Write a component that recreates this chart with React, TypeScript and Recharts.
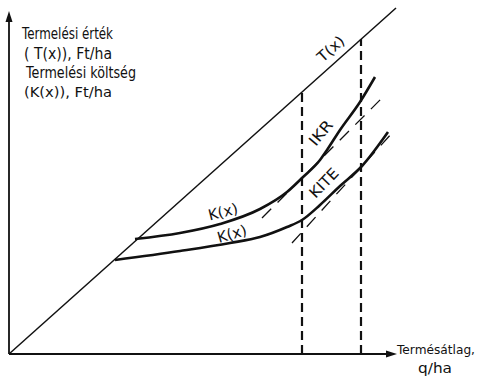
// App.tsx
import React from "react";
import {
  LineChart,
  Line,
  XAxis,
  YAxis,
  ReferenceLine,
  ReferenceDot,
} from "recharts";

// T(x) termelési érték – egyenes az origóból
const tx = [0, 387];
const ty = [0, 346];

// felső K(x) görbe
const k1x = [126, 171, 211, 251, 278, 293, 311, 318, 331, 351, 366];
const k1y = [115, 121, 130, 145, 162, 176, 194, 204, 224, 252, 277];

// alsó K(x) görbe
const k2x = [106, 171, 221, 251, 278, 293, 311, 331, 353, 379];
const k2y = [94, 103, 111, 117, 127, 134, 149, 168, 188, 222];

// szaggatott érintők
const tan1x = [253, 376];
const tan1y = [136, 259];
const tan2x = [283, 384];
const tan2y = [111, 222];

// függőleges szaggatott vonalak (x, T(x) magasság)
const vx = [293, 352];
const vTop = [262, 315];

// feliratok a görbéken
const labels = [
  { text: "T(x)", x: 322, y: 305, angle: -42, len: 31 },
  { text: "IKR", x: 312, y: 221, angle: -50, len: 28 },
  { text: "KITE", x: 315, y: 171, angle: -46, len: 35 },
  { text: "K(x)", x: 214, y: 142, angle: -14, len: 30 },
  { text: "K(x)", x: 223, y: 120, angle: -16, len: 30 },
];

const font = "'DejaVu Sans', sans-serif";
const ink = "#111";

const pts = (xs: number[], ys: number[]) => xs.map((x, i) => ({ x, y: ys[i] }));

// tengely nyíllal a végén
const Arrow = (p: any) => {
  const { x1, y1, x2, y2 } = p;
  const a = Math.atan2(y2 - y1, x2 - x1);
  const L = 11;
  const w = 3.5;
  const bx = x2 - L * Math.cos(a);
  const by = y2 - L * Math.sin(a);
  const nx = -Math.sin(a) * w;
  const ny = Math.cos(a) * w;
  return (
    <g>
      <line x1={x1} y1={y1} x2={bx} y2={by} stroke={ink} strokeWidth={1.8} />
      <polygon
        points={`${x2},${y2} ${bx + nx},${by + ny} ${bx - nx},${by - ny}`}
        fill={ink}
      />
    </g>
  );
};

const T = (p: { x: number; y: number; len: number; size?: number; children: string }) => (
  <text x={p.x} y={p.y} fontSize={p.size ?? 15} textLength={p.len} lengthAdjust="spacingAndGlyphs">
    {p.children}
  </text>
);

export default function App() {
  return (
    <div style={{ position: "absolute", left: 0, top: 0, width: 481, height: 380, background: "#fff" }}>
      <LineChart
        width={481}
        height={380}
        margin={{ top: 4, left: 9, right: 72, bottom: 26 }}
      >
        <XAxis type="number" dataKey="x" domain={[0, 400]} hide />
        <YAxis type="number" dataKey="y" domain={[0, 350]} hide />

        {/* tengelyek */}
        <ReferenceLine
          segment={[{ x: 0, y: 0 }, { x: 388, y: 0 }]}
          ifOverflow="visible"
          shape={Arrow}
        />
        <ReferenceLine
          segment={[{ x: 0, y: 0 }, { x: 0, y: 343 }]}
          ifOverflow="visible"
          shape={Arrow}
        />

        {/* függőleges szaggatott vonalak */}
        {vx.map((x, i) => (
          <Line
            key={"v" + i}
            data={pts([x, x], [0, vTop[i]])}
            dataKey="y"
            stroke={ink}
            strokeWidth={2.2}
            strokeDasharray="9 5"
            dot={false}
            activeDot={false}
            isAnimationActive={false}
          />
        ))}

        {/* érintők */}
        <Line data={pts(tan1x, tan1y)} dataKey="y" stroke={ink} strokeWidth={1.3} strokeDasharray="13 9" dot={false} activeDot={false} isAnimationActive={false} />
        <Line data={pts(tan2x, tan2y)} dataKey="y" stroke={ink} strokeWidth={1.3} strokeDasharray="13 9" dot={false} activeDot={false} isAnimationActive={false} />

        <Line data={pts(tx, ty)} dataKey="y" stroke={ink} strokeWidth={1.5} dot={false} activeDot={false} isAnimationActive={false} />
        <Line type="monotone" data={pts(k1x, k1y)} dataKey="y" stroke={ink} strokeWidth={2.6} dot={false} activeDot={false} isAnimationActive={false} />
        <Line type="monotone" data={pts(k2x, k2y)} dataKey="y" stroke={ink} strokeWidth={2.6} dot={false} activeDot={false} isAnimationActive={false} />

        {labels.map((l, i) => (
          <ReferenceDot
            key={"l" + i}
            x={l.x}
            y={l.y}
            r={0}
            shape={(p: any) => (
              <text
                x={p.cx}
                y={p.cy}
                textAnchor="middle"
                dominantBaseline="central"
                fontFamily={font}
                fontSize={15}
                fill={ink}
                textLength={l.len}
                lengthAdjust="spacingAndGlyphs"
                transform={`rotate(${l.angle} ${p.cx} ${p.cy})`}
              >
                {l.text}
              </text>
            )}
          />
        ))}
      </LineChart>

      {/* tengelyfeliratok */}
      <svg
        width={481}
        height={380}
        style={{ position: "absolute", left: 0, top: 0, pointerEvents: "none" }}
      >
        <g fontFamily={font} fill={ink}>
          <T x={22} y={39} len={91}>Termelési érték</T>
          <T x={24} y={59} len={88}>( T(x)), Ft/ha</T>
          <T x={26} y={78} len={110}>Termelési költség</T>
          <T x={24} y={97} len={88} size={14.5}>(K(x)), Ft/ha</T>
          <T x={397} y={354} len={78} size={12.5}>Termésátlag,</T>
          <T x={418} y={373} len={34} size={13.5}>q/ha</T>
        </g>
      </svg>
    </div>
  );
}
